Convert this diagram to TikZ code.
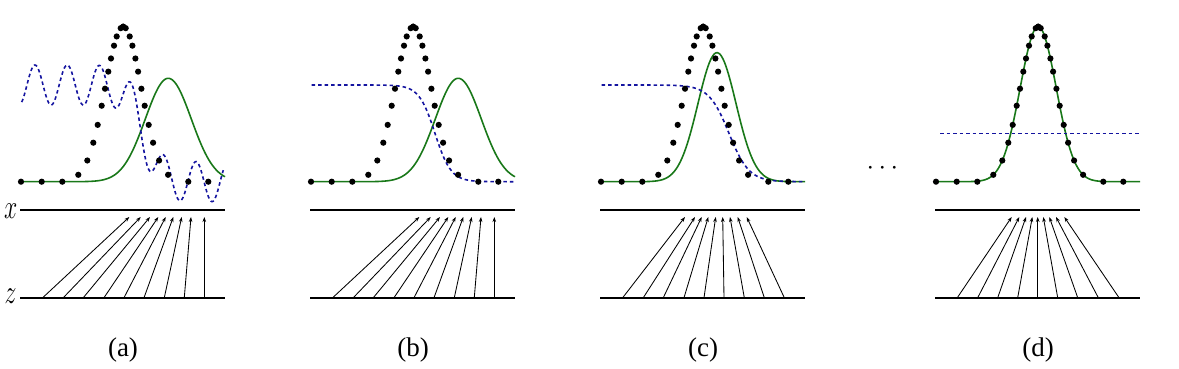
\RequirePackage{fix-cm}
\documentclass[tikz,border=0pt]{standalone}
\usepackage{fontspec}
\newfontfamily\lab{Liberation Serif}
\usetikzlibrary{arrows.meta}
\definecolor{dblue}{RGB}{20,20,160}
\definecolor{dgreen}{RGB}{25,120,25}
\tikzset{
  axisline/.style={line width=1.8pt},
  map/.style={line width=0.85pt, -{Stealth[length=5pt,width=3.6pt]}},
  pg/.style={dgreen, line width=1.6pt},
  disc/.style={draw=dblue, line width=1.6pt, dash pattern=on 3.5pt off 3pt},
  panellabel/.style={font=\lab\fontsize{27}{30}\selectfont, inner sep=0pt},
  varlabel/.style={font=\fontsize{34}{36}\selectfont, inner sep=0pt},
}
\begin{document}
\begin{tikzpicture}[x=1pt,y=-1pt,
  declare function={
    gs(\t,\c,\s,\h)=\h*exp(max(-9,-0.5*((\t-\c)/\s)^2));
    sig(\t)=1/(1+exp(min(9,max(-9,-\t))));
  }]
\useasboundingbox (0,0) rectangle (1179,369);

% ---------- generator densities (green) ----------
\draw[pg] plot[domain=21:225, samples=150] (\x, {181.7-gs(\x,168.3,23,103.4)});
\draw[pg] plot[domain=21:225, samples=150] (\x+290, {181.7-gs(\x,168.3,23,103.4)});
\draw[pg] plot[domain=21:225, samples=150] (\x+580, {181.7-gs(\x,137,19,129)});
\draw[pg] plot[domain=21:225, samples=150] (\x+915, {181.7-gs(\x,123.2,18,155)});

% ---------- discriminator (blue dashed) ----------
\draw[disc] plot[domain=21.7:223.3, samples=260]
  (\x, {85+96.7*sig((\x-143)/8)-20*cos(11.1801*(\x-35))});
\draw[disc] plot[domain=21.7:225, samples=150] (\x+290, {85+96.7*sig((\x-145)/8)});
\draw[disc] plot[domain=21.7:225, samples=150] (\x+580, {85+96.7*sig((\x-149)/10)});
\draw[disc] plot[domain=25:225, samples=2] (\x+915, 133.5);

% ---------- data distribution (black dots), axes, labels ----------
\foreach \off/\p in {0/a,290/b,580/c,915/d}{
  \foreach \d in {0,2.5,6.5,9.2,12.2,14.9,18.2,21.5,25.5,29.9,35.9,44.9}{
    \fill (\off+123.2-\d, {181.7-155*exp(-0.5*(\d/18)^2)}) circle[radius=3.1pt];
    \fill (\off+123.2+\d, {181.7-155*exp(-0.5*(\d/18)^2)}) circle[radius=3.1pt];
  }
  \foreach \xx in {21,41.7,62.3,188.3,208.3}{
    \fill (\off+\xx,181.7) circle[radius=3.1pt];
  }
  \coordinate (xl\p) at (\off+20,210);
  \coordinate (xr\p) at (\off+225,210);
  \coordinate (zl\p) at (\off+20,297.7);
  \coordinate (zr\p) at (\off+225,297.7);
  \draw[axisline] (xl\p) -- (xr\p);
  \draw[axisline] (zl\p) -- (zr\p);
  \node[panellabel] (lab\p) at (\off+123,350) {(\p)};
}

% ---------- mappings z -> x ----------
\foreach \b/\t [count=\i] in {42.7/129.3,63.3/140.7,83.3/150,104/158.3,124/165.7,144/173.3,164.3/181.7,184.3/191,204.3/204.3}{
  \coordinate (za\i) at (\b,297.7);  \coordinate (xa\i) at (\t,217);
  \draw[map] (za\i) -- (xa\i);
  \coordinate (zb\i) at (\b+290,297.7);  \coordinate (xb\i) at (\t+290,217);
  \draw[map] (zb\i) -- (xb\i);
}
\foreach \b/\t [count=\i] in {42.7/105,63.3/115,83.3/121.7,104/128.3,124/135.7,144/142.7,164.3/150,184.3/157.7,204.3/166.7}{
  \coordinate (zc\i) at (\b+580,297.7);  \coordinate (xc\i) at (\t+580,217);
  \draw[map] (zc\i) -- (xc\i);
}
\foreach \b/\t [count=\i] in {42.3/96.7,62.7/104.3,82.7/111,102.7/117.3,122.7/122.7,142.7/128.3,162.7/134.3,183.3/141,204/149.3}{
  \coordinate (zd\i) at (\b+915,297.7);  \coordinate (xd\i) at (\t+915,217);
  \draw[map] (zd\i) -- (xd\i);
}

% ---------- axis variable labels ----------
\node[varlabel] (xlab) at (10.7,211) {\scalebox{0.7}[1]{$x$}};
\node[varlabel] (zlab) at (10.5,295.8) {\scalebox{0.7}[1]{$z$}};

% ---------- ellipsis ----------
\node[inner sep=0pt, anchor=base, font=\fontsize{27}{30}\selectfont] (dots) at (882.3,174) {$\cdots$};
\end{tikzpicture}
\end{document}
